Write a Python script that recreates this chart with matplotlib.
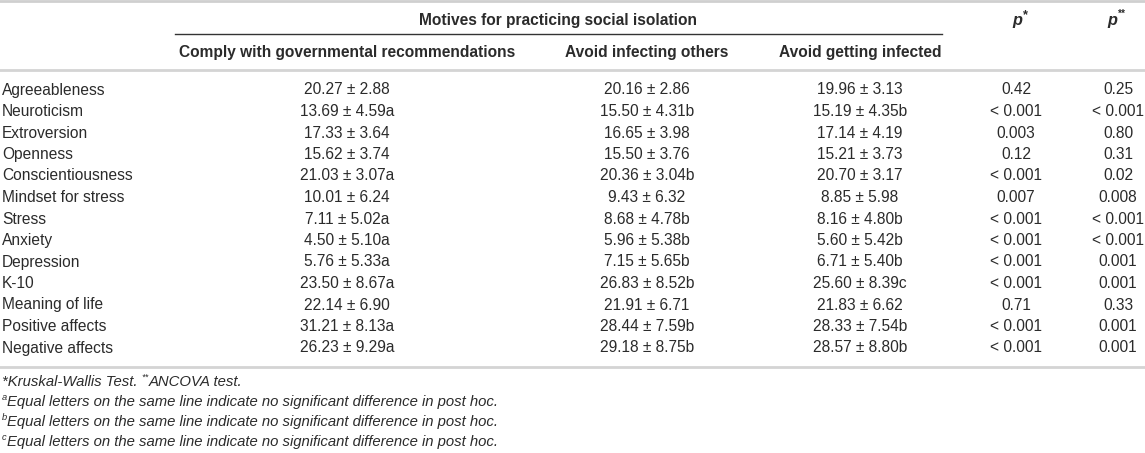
import matplotlib
matplotlib.use("Agg")
import matplotlib.pyplot as plt

# table content
rows = ["Agreeableness", "Neuroticism", "Extroversion", "Openness", "Conscientiousness",
        "Mindset for stress", "Stress", "Anxiety", "Depression", "K-10",
        "Meaning of life", "Positive affects", "Negative affects"]
comply = ["20.27 ± 2.88", "13.69 ± 4.59a", "17.33 ± 3.64", "15.62 ± 3.74", "21.03 ± 3.07a",
          "10.01 ± 6.24", "7.11 ± 5.02a", "4.50 ± 5.10a", "5.76 ± 5.33a", "23.50 ± 8.67a",
          "22.14 ± 6.90", "31.21 ± 8.13a", "26.23 ± 9.29a"]
others = ["20.16 ± 2.86", "15.50 ± 4.31b", "16.65 ± 3.98", "15.50 ± 3.76", "20.36 ± 3.04b",
          "9.43 ± 6.32", "8.68 ± 4.78b", "5.96 ± 5.38b", "7.15 ± 5.65b", "26.83 ± 8.52b",
          "21.91 ± 6.71", "28.44 ± 7.59b", "29.18 ± 8.75b"]
infected = ["19.96 ± 3.13", "15.19 ± 4.35b", "17.14 ± 4.19", "15.21 ± 3.73", "20.70 ± 3.17",
            "8.85 ± 5.98", "8.16 ± 4.80b", "5.60 ± 5.42b", "6.71 ± 5.40b", "25.60 ± 8.39c",
            "21.83 ± 6.62", "28.33 ± 7.54b", "28.57 ± 8.80b"]
p_kw = ["0.42", "< 0.001", "0.003", "0.12", "< 0.001", "0.007", "< 0.001", "< 0.001",
        "< 0.001", "< 0.001", "0.71", "< 0.001", "< 0.001"]
p_ancova = ["0.25", "< 0.001", "0.80", "0.31", "0.02", "0.008", "< 0.001", "< 0.001",
            "0.001", "0.001", "0.33", "0.001", "0.001"]
group_title = "Motives for practicing social isolation"
col_titles = ["Comply with governmental recommendations", "Avoid infecting others",
              "Avoid getting infected"]
note_sup = ["a", "b", "c"]
note_text = "Equal letters on the same line indicate no significant difference in post hoc."

plt.rcParams['font.family'] = ['Liberation Sans', 'DejaVu Sans']
fs = 11.2
fs_note = 10.7
txt = '#2b2b2b'

fig = plt.figure(figsize=(11.45, 4.53), dpi=100)
ax = fig.add_axes([0, 0, 1, 1])
ax.set_xlim(0, 1145)
ax.set_ylim(453, 0)
ax.axis('off')
rend = fig.canvas.get_renderer()

col_x = [347, 647, 860, 1016, 1118]
row_y0, row_dy = 90, 21.5

# rules
ax.plot([0, 1145], [1, 1], color='#cfcfcf', lw=2)
ax.plot([175, 942], [34, 34], color='#333333', lw=1)
ax.plot([0, 1145], [70, 70], color='#d4d4d4', lw=2)
ax.plot([0, 1145], [367, 367], color='#d4d4d4', lw=2)

# headers
ax.text(558, 20, group_title, ha='center', va='center', fontsize=fs, fontweight='bold', color=txt)
for x, t in zip(col_x[:3], col_titles):
    ax.text(x, 52, t, ha='center', va='center', fontsize=fs, fontweight='bold', color=txt)
ax.text(col_x[3] + 1, 20, "p", ha='center', va='center', fontsize=fs + 0.5,
        fontweight='bold', fontstyle='italic', color=txt)
ax.text(col_x[3] + 7, 15, "*", ha='left', va='center', fontsize=fs - 2, fontweight='bold', color=txt)
ax.text(col_x[4] - 6, 20, "p", ha='center', va='center', fontsize=fs + 0.5,
        fontweight='bold', fontstyle='italic', color=txt)
ax.text(col_x[4], 14, "**", ha='left', va='center', fontsize=fs - 4, fontweight='bold', color=txt)

# body
for i, name in enumerate(rows):
    y = row_y0 + i * row_dy
    ax.text(2, y, name, ha='left', va='center', fontsize=fs, color=txt)
    for x, col in zip(col_x, [comply, others, infected, p_kw, p_ancova]):
        ax.text(x, y, col[i], ha='center', va='center', fontsize=fs, color=txt)

# footnotes
t1 = ax.text(2, 382, "*Kruskal-Wallis Test.", ha='left', va='center', fontsize=fs_note,
             fontstyle='italic', color=txt)
x1 = t1.get_window_extent(rend).x1 + 4
t2 = ax.text(x1, 377, "**", ha='left', va='center', fontsize=fs_note - 4, fontstyle='italic', color=txt)
x2 = t2.get_window_extent(rend).x1
ax.text(x2, 382, "ANCOVA test.", ha='left', va='center', fontsize=fs_note,
        fontstyle='italic', color=txt)
for k, s in enumerate(note_sup):
    y = 402 + k * 20
    ax.text(2, y - 5, s, ha='left', va='center', fontsize=fs_note - 4, fontstyle='italic', color=txt)
    ax.text(7, y, note_text, ha='left', va='center', fontsize=fs_note, fontstyle='italic', color=txt)

fig.savefig("out.png", dpi=100)
